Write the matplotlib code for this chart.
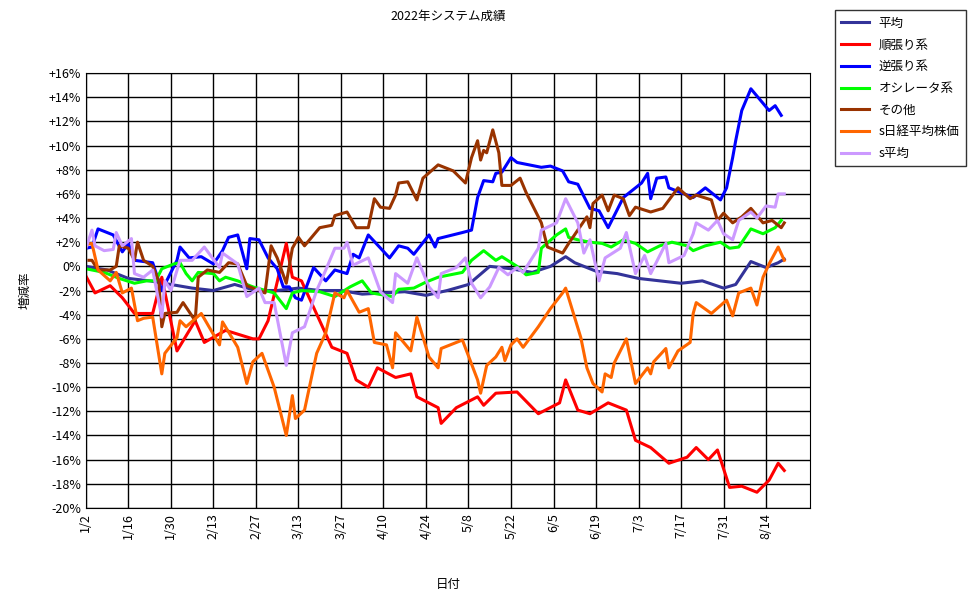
import matplotlib.pyplot as plt
import numpy as np

plt.rcParams['font.family'] = ['Noto Sans CJK JP', 'DejaVu Sans']
plt.rcParams['font.size'] = 9

# day offsets from 1/2 and values in %
avg_d = [0, 7, 14, 21, 28, 35, 42, 49, 56, 63, 70, 77, 84, 91, 98, 105, 112, 119, 126, 133, 140, 147, 153, 158, 161, 168, 175, 182, 189, 196, 203, 210, 214, 219, 224, 228, 230]
avg_v = [0.0, -0.3, -1.0, -1.2, -1.5, -1.8, -2.0, -1.5, -2.0, -2.0, -1.8, -2.0, -2.0, -2.3, -2.2, -2.1, -2.4, -2.0, -1.5, 0.0, -0.2, -0.5, 0.0, 0.8, 0.3, -0.4, -0.6, -1.0, -1.2, -1.4, -1.2, -1.8, -1.5, 0.4, -0.1, 0.3, 0.6]

jun_d = [0, 3, 8, 12, 16, 22, 25, 30, 36, 39, 46, 55, 57, 60, 66, 68, 71, 77, 81, 86, 89, 93, 96, 102, 107, 109, 116, 117, 122, 129, 131, 135, 142, 149, 156, 158, 162, 166, 172, 178, 181, 186, 192, 198, 201, 205, 208, 212, 216, 221, 225, 228, 230]
jun_v = [-0.8, -2.2, -1.6, -2.6, -3.9, -3.9, -0.9, -7.0, -4.5, -6.3, -5.3, -6.0, -6.0, -4.5, 1.9, -0.9, -1.2, -4.5, -6.7, -7.2, -9.4, -10.0, -8.4, -9.2, -8.9, -10.8, -11.7, -13.0, -11.7, -10.8, -11.5, -10.5, -10.4, -12.2, -11.3, -9.4, -11.9, -12.2, -11.3, -11.9, -14.4, -15.0, -16.3, -15.8, -15.0, -16.0, -15.2, -18.3, -18.2, -18.7, -17.7, -16.3, -16.9]

gyaku_d = [0, 2, 4, 9, 12, 14, 16, 22, 25, 30, 31, 34, 38, 42, 45, 47, 50, 53, 54, 57, 60, 63, 65, 67, 69, 71, 75, 79, 80, 82, 86, 88, 90, 93, 100, 103, 106, 108, 113, 115, 116, 124, 127, 129, 131, 134, 135, 137, 140, 142, 146, 150, 153, 157, 159, 162, 166, 169, 172, 177, 180, 183, 185, 186, 188, 191, 192, 196, 200, 204, 209, 211, 213, 214, 216, 219, 225, 227, 229]
gyaku_v = [1.5, 1.6, 3.1, 2.6, 1.2, 1.9, 0.5, 0.3, -2.0, 0.5, 1.6, 0.7, 0.8, 0.2, 1.3, 2.4, 2.6, -0.2, 2.3, 2.2, 0.7, -0.2, -1.7, -1.7, -2.6, -2.8, -0.1, -1.2, -0.9, -0.3, -0.6, 1.0, 0.7, 2.6, 0.7, 1.7, 1.5, 1.0, 2.6, 1.6, 2.3, 2.8, 3.0, 5.7, 7.1, 7.0, 7.7, 7.8, 9.0, 8.6, 8.4, 8.2, 8.3, 7.9, 7.0, 6.8, 4.8, 4.6, 3.2, 5.7, 6.3, 6.9, 7.7, 5.6, 7.3, 7.4, 6.5, 6.1, 5.7, 6.5, 5.5, 6.5, 9.0, 10.4, 12.9, 14.7, 12.9, 13.3, 12.5]

osc_d = [0, 2, 6, 11, 16, 20, 23, 25, 29, 31, 33, 35, 37, 42, 44, 46, 50, 55, 62, 66, 68, 71, 77, 82, 87, 91, 94, 101, 103, 108, 112, 116, 124, 127, 131, 135, 137, 142, 145, 149, 150, 155, 158, 159, 162, 166, 170, 173, 177, 181, 185, 189, 193, 198, 200, 204, 209, 212, 215, 219, 223, 227, 229]
osc_v = [-0.2, -0.3, -0.5, -1.0, -1.4, -1.2, -1.2, -0.2, 0.2, 0.3, -0.6, -1.2, -0.5, -0.6, -1.2, -0.9, -1.2, -1.7, -2.2, -3.5, -2.2, -2.0, -2.1, -2.5, -1.7, -1.2, -2.2, -2.5, -1.9, -1.8, -1.3, -0.9, -0.5, 0.5, 1.3, 0.5, 0.8, 0.0, -0.7, -0.5, 1.5, 2.6, 3.1, 2.4, 2.2, 2.0, 1.9, 1.6, 2.2, 1.9, 1.2, 1.7, 2.0, 1.7, 1.3, 1.7, 2.0, 1.5, 1.6, 3.1, 2.7, 3.2, 3.8]

other_d = [1, 2, 4, 8, 10, 11, 14, 16, 17, 19, 22, 24, 25, 26, 30, 32, 36, 37, 40, 44, 47, 50, 53, 57, 59, 61, 63, 66, 68, 70, 72, 77, 81, 82, 86, 89, 93, 95, 97, 100, 102, 103, 106, 109, 111, 116, 121, 125, 127, 129, 130, 131, 132, 134, 136, 137, 140, 143, 145, 150, 152, 157, 159, 162, 165, 166, 167, 170, 172, 174, 177, 179, 181, 186, 190, 195, 199, 201, 206, 208, 210, 213, 216, 219, 223, 226, 229, 230]
other_v = [0.5, 0.5, -0.3, -0.3, 0.0, 1.7, 1.5, 0.5, 2.0, 0.5, 0.0, -1.2, -5.0, -3.9, -3.8, -3.0, -4.5, -0.9, -0.3, -0.5, 0.3, 0.2, -1.6, -2.0, -2.2, 1.7, 0.7, -1.4, 1.5, 2.4, 1.7, 3.2, 3.4, 4.2, 4.5, 3.2, 3.2, 5.6, 4.9, 4.8, 5.9, 6.9, 7.0, 5.5, 7.3, 8.4, 7.9, 6.9, 9.0, 10.4, 8.8, 9.6, 9.4, 11.3, 9.4, 6.7, 6.7, 7.3, 6.1, 3.6, 1.6, 1.1, 1.9, 3.0, 4.1, 3.2, 5.2, 5.9, 4.6, 5.9, 5.6, 4.2, 4.9, 4.5, 4.8, 6.5, 5.6, 5.9, 5.5, 3.8, 4.4, 3.6, 4.1, 4.8, 3.6, 3.8, 3.2, 3.6]

nikkei_d = [0, 2, 4, 8, 10, 12, 15, 17, 19, 22, 25, 26, 30, 31, 33, 38, 44, 45, 50, 53, 55, 58, 62, 66, 68, 69, 72, 76, 79, 82, 85, 86, 90, 93, 95, 99, 101, 102, 107, 109, 113, 116, 117, 124, 129, 130, 132, 135, 137, 138, 140, 142, 144, 149, 153, 157, 158, 163, 165, 167, 170, 171, 173, 174, 178, 181, 185, 186, 187, 191, 192, 195, 199, 200, 201, 206, 211, 213, 215, 219, 221, 223, 225, 228, 230]
nikkei_v = [1.8, 1.9, -0.3, -1.2, -0.5, -2.2, -1.8, -4.5, -4.3, -4.2, -8.9, -7.2, -5.9, -4.5, -5.0, -3.9, -6.5, -4.6, -6.7, -9.7, -7.9, -7.2, -10.0, -14.0, -10.7, -12.6, -11.9, -7.2, -5.5, -2.2, -2.6, -2.0, -3.8, -3.5, -6.3, -6.5, -8.4, -5.5, -7.0, -4.2, -7.5, -8.4, -6.8, -6.1, -9.4, -10.5, -8.2, -7.5, -6.7, -7.8, -6.5, -6.0, -6.7, -5.0, -3.5, -2.2, -1.8, -5.9, -8.4, -9.7, -10.4, -8.9, -9.2, -8.0, -6.0, -9.7, -8.4, -8.9, -7.9, -6.8, -8.4, -7.0, -6.3, -3.9, -3.0, -3.9, -2.8, -4.1, -2.2, -1.8, -3.2, -0.9, 0.2, 1.6, 0.5]

savg_d = [0, 2, 3, 6, 9, 10, 12, 15, 16, 19, 22, 25, 26, 28, 31, 35, 39, 44, 45, 50, 53, 57, 59, 62, 66, 68, 72, 76, 79, 82, 85, 86, 88, 93, 97, 101, 102, 106, 109, 113, 116, 117, 122, 125, 127, 130, 133, 136, 139, 142, 144, 149, 150, 155, 158, 162, 164, 166, 169, 171, 176, 178, 181, 184, 186, 191, 192, 197, 200, 201, 205, 208, 210, 213, 215, 219, 221, 224, 227, 228, 230]
savg_v = [1.5, 3.0, 1.7, 1.3, 1.4, 2.8, 1.7, 2.3, -0.6, -0.9, -0.3, -4.2, -1.2, -2.0, 0.5, 0.5, 1.6, -0.1, 1.1, 0.2, -2.5, -1.8, -3.0, -3.0, -8.2, -5.5, -5.0, -2.0, -0.3, 1.5, 1.5, 2.0, 0.1, 0.7, -2.1, -3.0, -0.6, -1.4, 0.7, -1.7, -2.6, -0.6, -0.1, 0.7, -1.4, -2.6, -1.7, -0.1, -0.7, -0.1, -0.5, 1.5, 3.0, 3.6, 5.6, 3.6, 1.1, 2.2, -1.2, 0.7, 1.5, 2.8, -0.6, 0.9, -0.6, 1.9, 0.3, 0.9, 2.7, 3.6, 3.0, 3.8, 2.7, 2.2, 3.8, 4.5, 4.0, 5.0, 4.9, 6.0, 6.0]

series = [
    ("平均", avg_d, avg_v, "#333399"),
    ("順張り系", jun_d, jun_v, "#FF0000"),
    ("逆張り系", gyaku_d, gyaku_v, "#0000FF"),
    ("オシレータ系", osc_d, osc_v, "#00FF00"),
    ("その他", other_d, other_v, "#993300"),
    ("s日経平均株価", nikkei_d, nikkei_v, "#FF6600"),
    ("s平均", savg_d, savg_v, "#CC99FF"),
]

tick_days = list(range(0, 225, 14))
tick_labels = ["1/2", "1/16", "1/30", "2/13", "2/27", "3/13", "3/27", "4/10", "4/24",
               "5/8", "5/22", "6/5", "6/19", "7/3", "7/17", "7/31", "8/14"]

fig = plt.figure(figsize=(9.76, 5.99), dpi=100)
ax = fig.add_axes([0.088, 0.152, 0.742, 0.726])

for name, d, v, c in series:
    ax.plot(d, v, color=c, linewidth=2.2, label=name)

ax.set_xlim(0, 238.5)
ax.set_ylim(-20, 16)
ax.set_xticks(tick_days)
ax.set_xticklabels(tick_labels, rotation=90)
yt = np.arange(-20, 17, 2)
ax.set_yticks(yt)
ax.set_yticklabels([f"+{y}%" if y > 0 else f"{y}%" for y in yt])
ax.grid(True, color="black", linewidth=1)
ax.tick_params(length=0, labelsize=9)
for s in ax.spines.values():
    s.set_color("black")

ax.set_title("2022年システム成績", fontsize=9, pad=38)
ax.set_xlabel("日付", fontsize=9, labelpad=28)
ax.set_ylabel("増減率", fontsize=9, labelpad=12)

leg = fig.legend(loc="upper left", bbox_to_anchor=(0.849, 0.993), fontsize=9,
                 frameon=True, fancybox=False, edgecolor="black",
                 handlelength=2.2, labelspacing=0.7, borderpad=0.5)
leg.get_frame().set_linewidth(1)

fig.savefig("out.png")
